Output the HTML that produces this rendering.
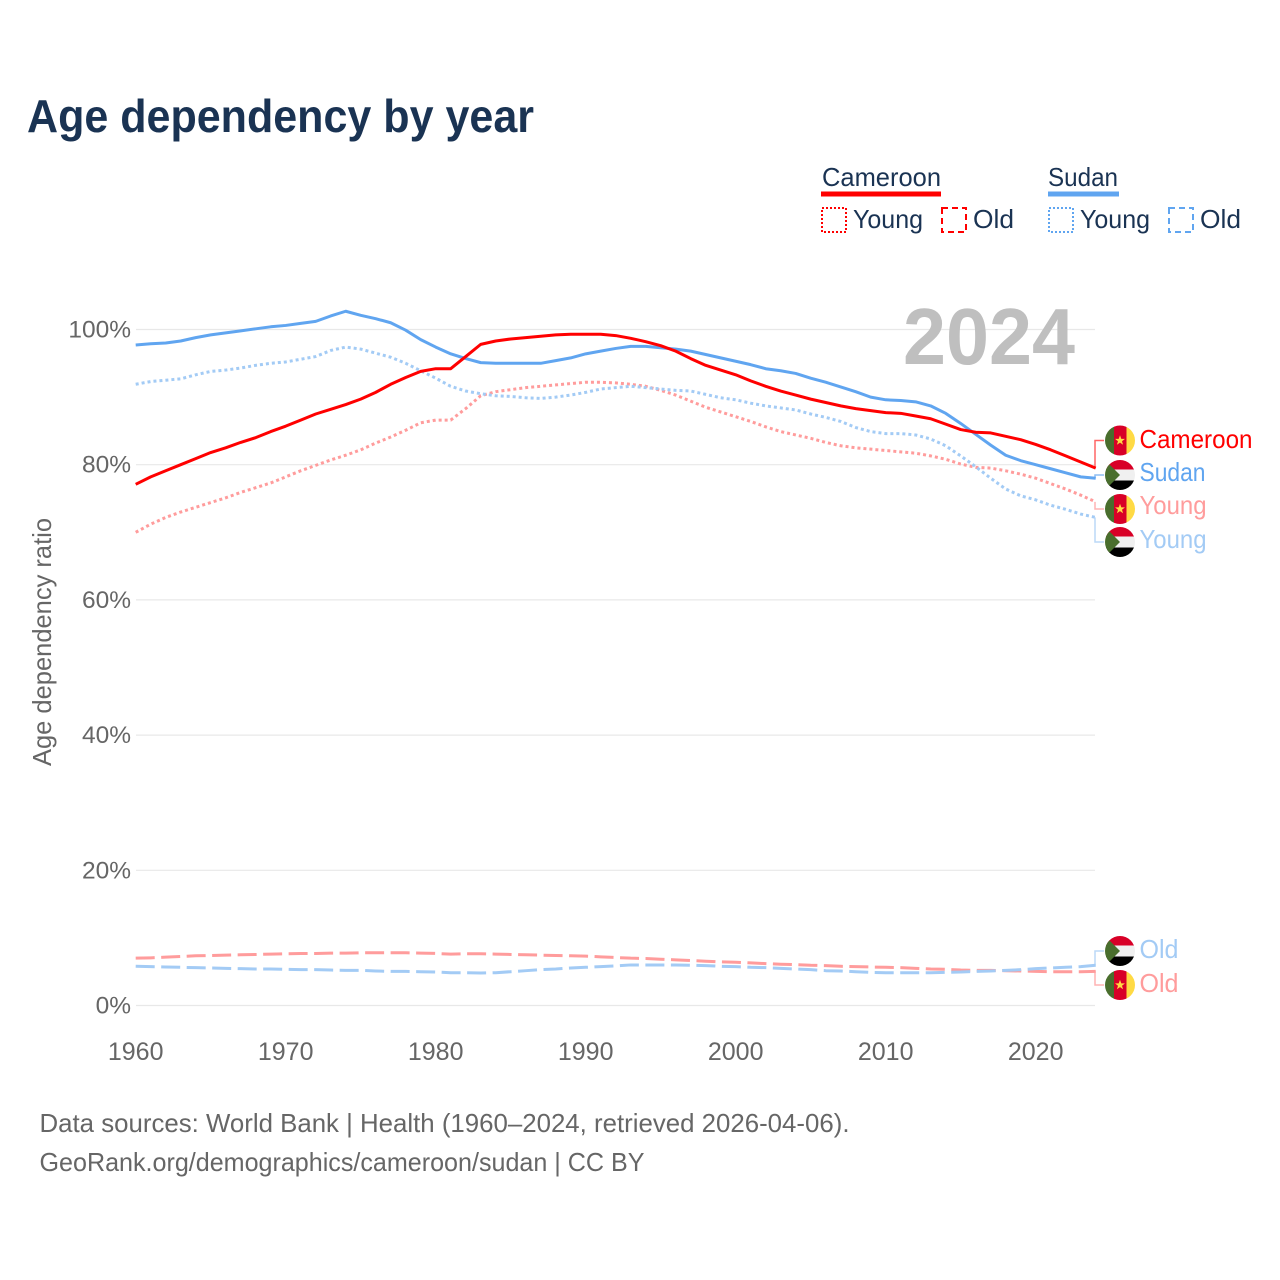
<!DOCTYPE html>
<html lang="en">
<head>
<meta charset="utf-8">
<title>Age dependency by year</title>
<style>
  html, body { margin: 0; padding: 0; background: #fff; }
  svg { display: block; }
  text { font-family: "Liberation Sans", sans-serif; }
</style>
</head>
<body>
<svg id="chart" xmlns="http://www.w3.org/2000/svg" width="1280" height="1280" viewBox="0 0 1280 1280">
  <defs>
    <clipPath id="flag-clip"><circle cx="0" cy="0" r="15"/></clipPath>
    <symbol id="flag-cm" overflow="visible" viewBox="-15 -15 30 30" width="30" height="30">
      <g clip-path="url(#flag-clip)">
        <rect x="-15" y="-15" width="9" height="30" fill="#496e2d"/>
        <rect x="-6" y="-15" width="12.5" height="30" fill="#d80027"/>
        <rect x="6.5" y="-15" width="8.5" height="30" fill="#ffda44"/>
        <polygon points="0,-5.2 1.3,-1.6 5,-1.6 2,0.7 3.1,4.3 0,2.1 -3.1,4.3 -2,0.7 -5,-1.6 -1.3,-1.6" fill="#ffda44"/>
      </g>
    </symbol>
    <symbol id="flag-sd" overflow="visible" viewBox="-15 -15 30 30" width="30" height="30">
      <g clip-path="url(#flag-clip)">
        <rect x="-15" y="-15" width="30" height="9.5" fill="#d80027"/>
        <rect x="-15" y="-5.5" width="30" height="11" fill="#f0f0f0"/>
        <rect x="-15" y="5.5" width="30" height="9.5" fill="#000"/>
        <polygon points="-15,-15 0,0 -15,15" fill="#496e2d"/>
      </g>
    </symbol>
  </defs>

  <rect x="0" y="0" width="1280" height="1280" fill="#fff"/>

  <text x="27" y="132" font-size="46" font-weight="700" fill="#1a3353" textLength="507" lengthAdjust="spacingAndGlyphs">Age dependency by year</text>

  <g font-size="26" fill="#1a3353">
    <text x="822" y="186" textLength="119" lengthAdjust="spacingAndGlyphs">Cameroon</text>
    <rect x="821" y="191.5" width="120" height="5" fill="#ff0000"/>
    <rect x="822" y="208" width="24" height="24" fill="none" stroke="#ff0000" stroke-width="2" stroke-dasharray="2 2"/>
    <text x="853" y="228" textLength="70" lengthAdjust="spacingAndGlyphs">Young</text>
    <rect x="942" y="208" width="24" height="24" fill="none" stroke="#ff0000" stroke-width="2" stroke-dasharray="6 4"/>
    <text x="973" y="228" textLength="41" lengthAdjust="spacingAndGlyphs">Old</text>

    <text x="1048" y="186" textLength="70" lengthAdjust="spacingAndGlyphs">Sudan</text>
    <rect x="1048" y="191.5" width="71" height="5" fill="#60a5f0"/>
    <rect x="1049" y="208" width="24" height="24" fill="none" stroke="#60a5f0" stroke-width="2" stroke-dasharray="2 2"/>
    <text x="1080" y="228" textLength="70" lengthAdjust="spacingAndGlyphs">Young</text>
    <rect x="1169" y="208" width="24" height="24" fill="none" stroke="#60a5f0" stroke-width="2" stroke-dasharray="6 4"/>
    <text x="1200" y="228" textLength="41" lengthAdjust="spacingAndGlyphs">Old</text>
  </g>

  <g id="grid"></g>
  <g id="y-ticks"></g>
  <g id="x-ticks"></g>

  <text transform="translate(51 642) rotate(-90)" text-anchor="middle" font-size="26" fill="#666" textLength="248" lengthAdjust="spacingAndGlyphs">Age dependency ratio</text>

  <text x="903" y="364" font-size="80" font-weight="700" fill="#bfbfbf" textLength="172" lengthAdjust="spacingAndGlyphs">2024</text>

  <g id="connectors"></g>
  <g id="series"></g>

  <g font-size="26">
    <use href="#flag-cm" x="1105" y="425.5"/>
    <text x="1139.5" y="448" fill="#ff0000" textLength="113" lengthAdjust="spacingAndGlyphs">Cameroon</text>
    <use href="#flag-sd" x="1105" y="460"/>
    <text x="1139.5" y="481" fill="#60a5f0" textLength="66" lengthAdjust="spacingAndGlyphs">Sudan</text>
    <use href="#flag-cm" x="1105" y="494"/>
    <text x="1139.5" y="514" fill="#ff9c9c" textLength="67" lengthAdjust="spacingAndGlyphs">Young</text>
    <use href="#flag-sd" x="1105" y="527"/>
    <text x="1139.5" y="548" fill="#a3cbf5" textLength="67" lengthAdjust="spacingAndGlyphs">Young</text>
    <use href="#flag-sd" x="1105" y="936"/>
    <text x="1139.5" y="958" fill="#a3cbf5" textLength="39" lengthAdjust="spacingAndGlyphs">Old</text>
    <use href="#flag-cm" x="1105" y="970"/>
    <text x="1139.5" y="992" fill="#ff9c9c" textLength="39" lengthAdjust="spacingAndGlyphs">Old</text>
  </g>

  <g font-size="26" fill="#666">
    <text x="39.5" y="1132" textLength="810" lengthAdjust="spacingAndGlyphs">Data sources: World Bank | Health (1960–2024, retrieved 2026-04-06).</text>
    <text x="39.5" y="1171" textLength="605" lengthAdjust="spacingAndGlyphs">GeoRank.org/demographics/cameroon/sudan | CC BY</text>
  </g>
</svg>

<script>
const firstYear = 1960;
const xTickYears = [1960, 1970, 1980, 1990, 2000, 2010, 2020];
const yTickValues = [0, 20, 40, 60, 80, 100];

const cameroonTotal = [77.1,78.2,79.1,80.0,80.9,81.8,82.5,83.3,84.0,84.9,85.7,86.6,87.5,88.2,88.9,89.7,90.7,91.9,92.9,93.8,94.2,94.2,96.0,97.8,98.3,98.6,98.8,99.0,99.2,99.3,99.3,99.3,99.1,98.7,98.2,97.6,96.8,95.7,94.7,94.0,93.3,92.4,91.6,90.9,90.3,89.7,89.2,88.7,88.3,88.0,87.7,87.6,87.2,86.8,86.0,85.2,84.8,84.7,84.2,83.7,83.0,82.2,81.3,80.4,79.5];
const sudanTotal = [97.7,97.9,98.0,98.3,98.8,99.2,99.5,99.8,100.1,100.4,100.6,100.9,101.2,102.0,102.7,102.1,101.6,101.0,99.9,98.5,97.4,96.4,95.7,95.1,95.0,95.0,95.0,95.0,95.4,95.8,96.4,96.8,97.2,97.5,97.5,97.3,97.1,96.8,96.3,95.8,95.3,94.8,94.2,93.9,93.5,92.8,92.2,91.5,90.8,90.0,89.6,89.5,89.3,88.7,87.6,86.1,84.5,82.9,81.4,80.6,80.0,79.4,78.8,78.2,78.0];
const cameroonYoung = [70.0,71.2,72.2,73.0,73.7,74.4,75.1,75.9,76.6,77.3,78.2,79.1,79.9,80.7,81.4,82.2,83.2,84.1,85.1,86.2,86.6,86.6,88.3,90.2,90.8,91.1,91.4,91.6,91.8,92.0,92.2,92.2,92.1,91.9,91.6,91.0,90.3,89.4,88.5,87.8,87.1,86.4,85.6,84.9,84.4,83.9,83.3,82.8,82.5,82.3,82.1,81.9,81.7,81.3,80.8,80.1,79.6,79.5,79.1,78.6,78.0,77.2,76.4,75.5,74.5];
const sudanYoung = [91.9,92.3,92.5,92.7,93.3,93.8,94.0,94.3,94.7,95.0,95.2,95.6,96.0,96.9,97.4,97.1,96.5,95.9,95.0,93.9,92.8,91.6,90.9,90.5,90.2,90.1,89.9,89.8,90.0,90.3,90.7,91.2,91.4,91.6,91.4,91.2,91.0,90.9,90.4,89.9,89.6,89.1,88.7,88.4,88.1,87.5,87.0,86.4,85.5,84.9,84.6,84.6,84.4,83.8,82.8,81.3,79.7,78.0,76.4,75.4,74.8,74.0,73.4,72.7,72.2];
const cameroonOld = [7.0,7.05,7.15,7.25,7.35,7.4,7.45,7.5,7.55,7.6,7.65,7.7,7.7,7.75,7.75,7.8,7.8,7.8,7.8,7.75,7.7,7.6,7.65,7.65,7.6,7.55,7.5,7.45,7.4,7.35,7.3,7.2,7.1,7.0,6.95,6.85,6.75,6.65,6.55,6.45,6.4,6.3,6.2,6.1,6.05,5.95,5.9,5.8,5.75,5.7,5.65,5.6,5.5,5.4,5.35,5.25,5.2,5.2,5.15,5.1,5.05,5.0,5.0,5.0,5.05];
const sudanOld = [5.8,5.75,5.7,5.65,5.6,5.55,5.5,5.45,5.4,5.4,5.35,5.3,5.3,5.25,5.2,5.2,5.1,5.05,5.05,5.0,4.95,4.85,4.85,4.8,4.85,5.0,5.15,5.3,5.4,5.55,5.65,5.75,5.85,6.0,6.0,6.0,6.0,5.95,5.9,5.8,5.75,5.65,5.6,5.5,5.4,5.3,5.15,5.1,5.0,4.9,4.85,4.85,4.85,4.85,4.9,4.95,5.05,5.1,5.2,5.3,5.45,5.55,5.65,5.75,5.95];

const NS = 'http://www.w3.org/2000/svg';
const xScale = function (year) { return 135.7 + (year - firstYear) * 15; };
const yScale = function (pct) { return 1005.5 - pct * 6.76; };

function svgEl(tag, parentId) {
  const el = document.createElementNS(NS, tag);
  document.getElementById(parentId).appendChild(el);
  return el;
}

yTickValues.forEach(function (v) {
  const line = svgEl('line', 'grid');
  
  
  line.setAttribute('x1', 136);
  line.setAttribute('x2', 1095);
  line.setAttribute('y1', yScale(v));
  line.setAttribute('y2', yScale(v));
  line.setAttribute('stroke', '#e8e8e8');
  line.setAttribute('stroke-width', '1.2');

  const label = svgEl('text', 'y-ticks');
  
  
  label.setAttribute('x', 131);
  label.setAttribute('y', yScale(v) + 8);
  label.setAttribute('text-anchor', 'end');
  label.setAttribute('font-size', '24.5');
  label.setAttribute('fill', '#666');
  label.textContent = v + '%';
});

xTickYears.forEach(function (year) {
  const label = svgEl('text', 'x-ticks');
  
  
  label.setAttribute('x', xScale(year));
  label.setAttribute('y', 1060);
  label.setAttribute('text-anchor', 'middle');
  label.setAttribute('font-size', '25');
  label.setAttribute('fill', '#666');
  label.textContent = String(year);
});

function linePath(values) {
  return values.map(function (v, i) {
    return (i ? 'L' : 'M') + xScale(firstYear + i).toFixed(2) + ' ' + yScale(v).toFixed(2);
  }).join('');
}

function drawSeries(name, values, color, dash) {
  const path = svgEl('path', 'series');
  
  
  path.setAttribute('d', linePath(values));
  path.setAttribute('fill', 'none');
  path.setAttribute('stroke', color);
  path.setAttribute('stroke-width', '3');
  path.setAttribute('stroke-linejoin', 'round');
  if (dash) { path.setAttribute('stroke-dasharray', dash); }
}

function drawConnector(name, values, slotY, color) {
  const endY = yScale(values[values.length - 1]);
  const path = svgEl('path', 'connectors');
  
  
  path.setAttribute('d', 'M1095 ' + endY.toFixed(2) + 'V' + slotY + 'H1104');
  path.setAttribute('fill', 'none');
  path.setAttribute('stroke', color);
  path.setAttribute('stroke-width', '1.5');
}

drawSeries('line-cameroon-old', cameroonOld, '#ff9c9c', '19 6.5');
drawSeries('line-sudan-old', sudanOld, '#a3cbf5', '19 6.5');
drawSeries('line-cameroon-young', cameroonYoung, '#ff9c9c', '3 3');
drawSeries('line-sudan-young', sudanYoung, '#a3cbf5', '3 3');
drawSeries('line-sudan-total', sudanTotal, '#60a5f0');
drawSeries('line-cameroon-total', cameroonTotal, '#ff0000');

drawConnector('connector-cameroon-total', cameroonTotal, 440.5, '#ff6666');
drawConnector('connector-sudan-total', sudanTotal, 475, '#8dbdf4');
drawConnector('connector-cameroon-young', cameroonYoung, 509, '#ffb3b3');
drawConnector('connector-sudan-young', sudanYoung, 542, '#bcd9f7');
drawConnector('connector-sudan-old', sudanOld, 951, '#bcd9f7');
drawConnector('connector-cameroon-old', cameroonOld, 985, '#ffb3b3');
</script>
</body>
</html>
